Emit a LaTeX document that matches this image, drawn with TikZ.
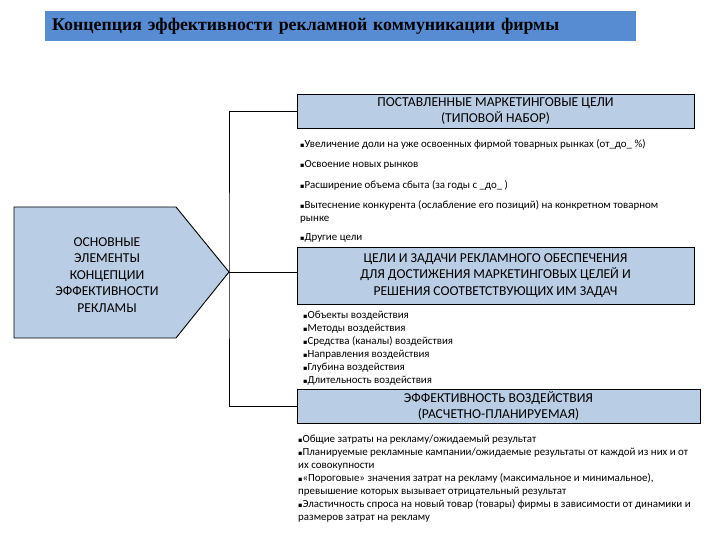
\documentclass[tikz,border=0pt]{standalone}
\usepackage{fontspec}
\setmainfont{Carlito}
\newfontfamily\titlefont{Liberation Serif}
\newfontfamily\symfont{DejaVu Sans}
\usepackage{tikz}
\usetikzlibrary{positioning, calc}
\definecolor{titleblue}{RGB}{88,140,210}
\definecolor{boxblue}{RGB}{185,205,229}
\newcommand\bul{{\symfont\fontsize{6.5}{6.5}\selectfont ▪}}

\begin{document}
\begin{tikzpicture}[
    x=1pt, y=-1pt,
    goalbox/.style={
        rectangle, draw=black, line width=0.9pt, fill=boxblue,
        minimum width=397pt, inner sep=0, align=center,
        font=\fontsize{13.6}{16.8}\selectfont
      },
    itemlist/.style={
        anchor=north west, inner sep=0, align=left,
        font=\fontsize{10.9}{13}\selectfont
      },
    link/.style={line width=0.9pt}
  ]
  \useasboundingbox (0,0) rectangle (720,540);

  \node [fill=titleblue, minimum width=591pt, minimum height=30pt, inner sep=0,
    anchor=north west, text width=577pt, align=left,
    font=\titlefont\bfseries\fontsize{17.8}{20}\selectfont]
  at (45,11)
  (title)
  {Концепция эффективности рекламной коммуникации фирмы};

  \draw [line width=0.9pt, fill=boxblue]
  (14,207) -- (176,207) -- (229,272) -- (176,338) -- (14,338) -- cycle;
  \coordinate (tip) at (229,272);
  \node [align=center, inner sep=0, font=\fontsize{13.6}{16.5}\selectfont]
  at (107,275)
  (elements)
  {ОСНОВНЫЕ\\ ЭЛЕМЕНТЫ\\ КОНЦЕПЦИИ\\ ЭФФЕКТИВНОСТИ\\ РЕКЛАМЫ};

  \node [goalbox, minimum height=34pt]
  at (495.5,111)
  (goals)
  {ПОСТАВЛЕННЫЕ МАРКЕТИНГОВЫЕ ЦЕЛИ\\ (ТИПОВОЙ НАБОР)};

  \node [goalbox, minimum height=57pt]
  at (495.5,275.5)
  (tasks)
  {ЦЕЛИ И ЗАДАЧИ РЕКЛАМНОГО ОБЕСПЕЧЕНИЯ\\ ДЛЯ ДОСТИЖЕНИЯ МАРКЕТИНГОВЫХ ЦЕЛЕЙ И\\ РЕШЕНИЯ СООТВЕТСТВУЮЩИХ ИМ ЗАДАЧ};

  \node [goalbox, minimum height=34pt, minimum width=403pt]
  at (498.5,406)
  (effect)
  {ЭФФЕКТИВНОСТЬ ВОЗДЕЙСТВИЯ\\ (РАСЧЕТНО-ПЛАНИРУЕМАЯ)};

  \node [itemlist]
  at (300,139)
  (goalitems)
  {\bul Увеличение доли на уже освоенных фирмой товарных рынках (от\_до\_ \%)\\[7.5pt]
    \bul Освоение новых рынков\\[7.5pt]
    \bul Расширение объема сбыта (за годы с \_до\_ )\\[7pt]
    \bul Вытеснение конкурента (ослабление его позиций) на конкретном товарном\\
    рынке\\[6pt]
    \bul Другие цели};

  \node [itemlist]
  at (303,311)
  (taskitems)
  {\bul Объекты воздействия\\
    \bul Методы воздействия\\
    \bul Средства (каналы) воздействия\\
    \bul Направления воздействия\\
    \bul Глубина воздействия\\
    \bul Длительность воздействия};

  \node [itemlist]
  at (298,435)
  (effectitems)
  {\bul Общие затраты на рекламу/ожидаемый результат\\
    \bul Планируемые рекламные кампании/ожидаемые результаты от каждой из них и от\\
    их совокупности\\
    \bul «Пороговые» значения затрат на рекламу (максимальное и минимальное),\\
    превышение которых вызывает отрицательный результат\\
    \bul Эластичность спроса на новый товар (товары) фирмы в зависимости от динамики и\\
    размеров затрат на рекламу};

  \draw [link] (goals.west) -| (tip) |- (effect.west);
  \draw [link] (tip) -- (tip -| tasks.west);
\end{tikzpicture}
\end{document}
